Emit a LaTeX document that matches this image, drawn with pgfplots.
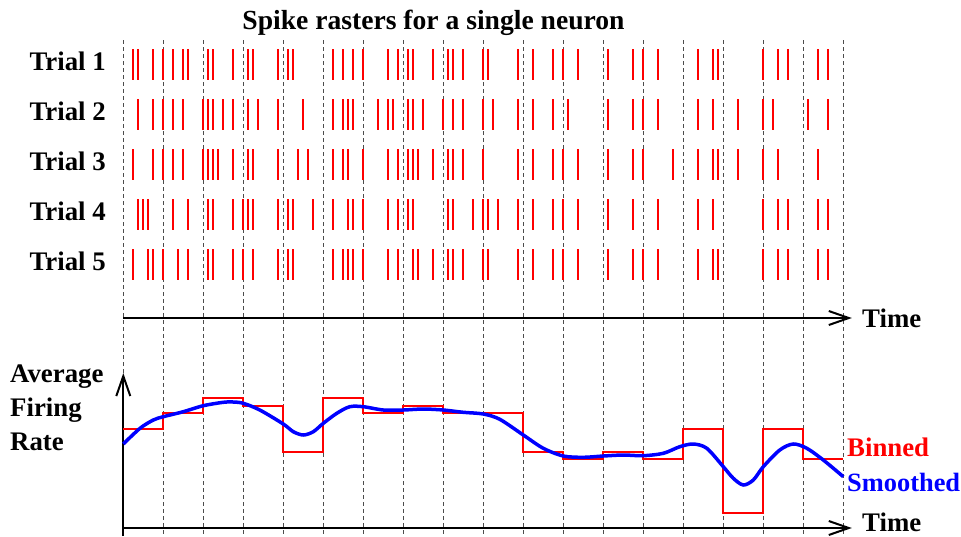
\documentclass[border=0pt]{standalone}
\usepackage{fontspec}
\setmainfont{Liberation Serif}
\usepackage{pgfplots}
\pgfplotsset{compat=1.18}
\usetikzlibrary{arrows.meta}
\begin{document}
\begin{tikzpicture}
\useasboundingbox (0pt,0pt) rectangle (961pt,-536pt);
\tikzset{bigfont/.style={font=\bfseries\fontsize{26.8}{30}\selectfont},
         lab/.style={bigfont, inner sep=0pt}}
% ---------------- raster panel (with dashed bin grid) ----------------
\begin{axis}[
  at={(123.3pt,-536pt)}, anchor=south west,
  scale only axis, width=720pt, height=496pt,
  xmin=0, xmax=144, ymin=0.51, ymax=10.43, y dir=reverse,
  axis line style={draw=none},
  xtick={0,8,...,144}, xticklabels={},
  xmajorgrids,
  major grid style={dash pattern=on 3.5pt off 3.5pt, black!70, line width=1.25pt},
  ytick={1,2,3,4,5}, yticklabels={Trial 1,Trial 2,Trial 3,Trial 4,Trial 5},
  major tick length=0pt,
  yticklabel style={bigfont, anchor=east, xshift=-14pt, yshift=3.5pt},
  clip=false,
]
\addplot[only marks, mark=|, mark size=15.5pt, red, mark options={line width=2pt}] coordinates {
(2,1)(3,1)(6,1)(8,1)(10,1)(12,1)(13,1)(17,1)(18,1)(22,1)(25,1)(26,1)(31,1)(33,1)(34,1)
(42,1)(44,1)(46,1)(48,1)(53,1)(55,1)(57,1)(58,1)(62,1)(65,1)(66,1)(68,1)(72,1)(73,1)
(79,1)(82,1)(86,1)(88,1)(91,1)(97,1)(102,1)(104,1)(107,1)(115,1)(118,1)(119,1)
(128,1)(131,1)(133,1)(139,1)(141,1)};
\addplot[only marks, mark=|, mark size=15.5pt, red, mark options={line width=2pt}] coordinates {
(3,2)(6,2)(8,2)(10,2)(12,2)(16,2)(17,2)(18,2)(20,2)(22,2)(25,2)(27,2)(31,2)(36,2)
(42,2)(44,2)(45,2)(46,2)(51,2)(53,2)(54,2)(57,2)(58,2)(60,2)(64,2)(66,2)(68,2)(72,2)(74,2)
(79,2)(82,2)(86,2)(89,2)(97,2)(102,2)(104,2)(107,2)(115,2)(118,2)(123,2)
(128,2)(130,2)(137,2)(141,2)};
\addplot[only marks, mark=|, mark size=15.5pt, red, mark options={line width=2pt}] coordinates {
(2,3)(6,3)(8,3)(10,3)(12,3)(16,3)(17,3)(18,3)(19,3)(22,3)(25,3)(26,3)(31,3)(35,3)(37,3)
(42,3)(44,3)(45,3)(48,3)(53,3)(55,3)(57,3)(58,3)(59,3)(62,3)(65,3)(66,3)(68,3)(72,3)
(79,3)(82,3)(86,3)(88,3)(91,3)(97,3)(102,3)(104,3)(110,3)(115,3)(118,3)(119,3)(123,3)
(128,3)(131,3)(139,3)};
\addplot[only marks, mark=|, mark size=15.5pt, red, mark options={line width=2pt}] coordinates {
(3,4)(4,4)(5,4)(10,4)(13,4)(17,4)(18,4)(22,4)(24,4)(25,4)(26,4)(31,4)(33,4)(34,4)(38,4)
(42,4)(45,4)(46,4)(48,4)(53,4)(55,4)(57,4)(58,4)(65,4)(66,4)(70,4)(72,4)(73,4)(75,4)
(79,4)(82,4)(86,4)(88,4)(91,4)(97,4)(102,4)(107,4)(115,4)(118,4)
(128,4)(131,4)(133,4)(139,4)(141,4)};
\addplot[only marks, mark=|, mark size=15.5pt, red, mark options={line width=2pt}] coordinates {
(2,5)(5,5)(6,5)(8,5)(11,5)(13,5)(17,5)(18,5)(22,5)(24,5)(26,5)(31,5)(33,5)(34,5)
(42,5)(44,5)(45,5)(46,5)(48,5)(53,5)(55,5)(58,5)(59,5)(62,5)(65,5)(66,5)(68,5)(72,5)(73,5)
(79,5)(82,5)(86,5)(88,5)(91,5)(97,5)(102,5)(104,5)(107,5)(115,5)(118,5)(119,5)
(128,5)(131,5)(133,5)(139,5)(141,5)};
\draw[line width=2pt, -{Straight Barb[length=20pt,width=14pt]}] (axis cs:0,6.07) -- (axis cs:145.7,6.07);
\end{axis}
% ---------------- firing-rate panel ----------------
\begin{axis}[
  at={(123.3pt,-536pt)}, anchor=south west,
  scale only axis, width=728.5pt, height=163pt,
  xmin=0, xmax=145.7, ymin=-8, ymax=155,
  axis lines=middle,
  axis line style={line width=2pt, -{Straight Barb[length=20pt,width=14pt]}},
  xtick=\empty, ytick=\empty, clip=false,
]
\addplot[const plot, red, line width=2pt] coordinates {
(0,99)(8,114.7)(16,129.7)(24,122.3)(32,76.3)(40,129.7)(48,114.7)(56,122.3)(64,114.7)
(72,114.7)(80,76.3)(88,68.7)(96,76.3)(104,68.7)(112,99)(120,14.7)(128,99)(136,68.7)(144,68.7)};
\addplot[smooth, blue, line width=3.5pt] coordinates {
(0,84)(3.34,99.7)(6,108)(8,111.3)(12,116.3)(16,122.3)(20,125.7)(22,126)(24,124.7)(27.3,118)
(32,104)(34,96.3)(36,93)(38,96.3)(40,104.7)(42.7,114.7)(45.3,121.3)(48,121.3)(52,118)(56,118)
(60,119)(64,118)(68,115.7)(72,114)(75.3,108.7)(80,93)(84,79.7)(88,72)(92,70.7)(96,72)(100,73)
(104,72.3)(108,74.7)(111.3,81.3)(114,84)(116.7,79.7)(120,61.3)(122,49.7)(124,43)(126,48)
(128,61.3)(131.3,78)(134,84)(136.7,79.7)(140,68)(144,51.3)};
\end{axis}
% ---------------- text ----------------
\node[lab, font=\bfseries\fontsize{27.6}{30}\selectfont, anchor=base] at (433.5pt,-29pt) {Spike rasters for a single neuron};
\node[lab, anchor=base west] at (862pt,-327pt) {Time};
\node[lab, anchor=base west] at (862pt,-531pt) {Time};
\node[lab, anchor=base west] at (10pt,-382pt) {Average};
\node[lab, anchor=base west] at (10pt,-416pt) {Firing};
\node[lab, anchor=base west] at (10pt,-450pt) {Rate};
\node[lab, anchor=base west, text=red] at (847pt,-456pt) {Binned};
\node[lab, font=\bfseries\fontsize{26.4}{30}\selectfont, anchor=base west, text=blue] at (847pt,-491pt) {Smoothed};
\end{tikzpicture}
\end{document}
